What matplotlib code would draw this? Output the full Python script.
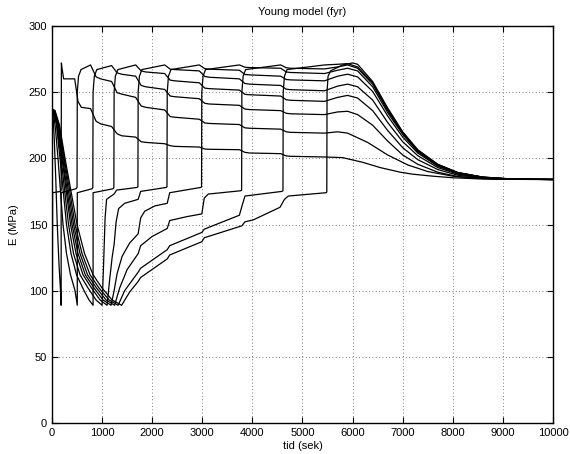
import matplotlib
matplotlib.use("Agg")
import matplotlib.pyplot as plt

plt.rcParams["font.family"] = ["Liberation Sans", "DejaVu Sans"]

# E-modulus per layer (MPa) against time (s), layer 1 = exposed surface
t_layer1 = [0, 8, 12, 175, 183, 188, 200, 233, 453, 519, 585, 770, 880, 970, 1190, 1300, 1390, 1670,
            1780, 1870, 2250, 2360, 2450, 2940, 3050, 3140, 3740, 3850, 3940, 4565, 4675, 4765, 5440,
            5800, 6200, 6550, 6950, 7200, 7600, 8000, 8500, 9000, 10000]
e_layer1 = [237, 89, 174, 175, 176, 272, 268, 260, 260, 243, 238.5, 237.5, 228, 226, 224, 218.5, 217, 216,
            212.5, 212, 211, 209.5, 209, 208.5, 207, 206.8, 206.5, 204.5, 204, 203.5, 201.8, 201.5, 201,
            200.5, 197, 193, 189.5, 188, 186.5, 185.3, 184.5, 184.1, 184]

t_layer2 = [0, 15, 45, 75, 105, 140, 170, 183, 183, 480, 500, 505, 530, 580, 770, 880, 970, 1190, 1300,
            1390, 1670, 1780, 1870, 2250, 2360, 2450, 2940, 3050, 3140, 3740, 3850, 3940, 4565, 4675,
            4765, 5440, 5700, 5900, 6300, 6700, 7100, 7500, 8000, 8500, 9000, 10000]
e_layer2 = [237, 236, 215, 185, 150, 120, 100, 89, 174, 177, 178, 250, 262, 267, 270.5, 261.5, 260, 258, 249.5,
            248.5, 246, 239.5, 238.5, 236.5, 231.5, 231, 229.5, 226.7, 226.3, 225.5, 223, 222.7, 222, 220,
            219.6, 219, 220, 219, 212, 202.5, 195, 190, 186.5, 184.8, 184.2, 184]

t_layer3 = [0, 25, 70, 120, 170, 220, 290, 370, 460, 505, 505, 800, 815, 820, 845, 895, 1190, 1300, 1390,
            1670, 1780, 1870, 2250, 2360, 2450, 2940, 3050, 3140, 3740, 3850, 3940, 4565, 4675, 4765,
            5440, 5700, 5900, 6100, 6400, 6700, 7000, 7300, 7700, 8100, 8600, 9200, 10000]
e_layer3 = [237, 236, 222, 200, 175, 150, 128, 112, 100, 89, 174, 177, 178, 250, 262, 267, 270, 264.5, 263.5,
            262, 255, 254, 252, 247, 246.5, 245, 241.5, 241, 240, 237.2, 236.8, 236, 234, 233.6,
            233, 235, 235.5, 233, 225, 213, 202.5, 195.5, 189.5, 186.2, 184.7, 184.1, 184]

t_layer4 = [0, 30, 90, 160, 225, 290, 380, 490, 640, 740, 820, 820, 1220, 1235, 1240, 1265, 1315, 1670,
            1780, 1870, 2250, 2360, 2450, 2940, 3050, 3140, 3740, 3850, 3940, 4565, 4675, 4765, 5440,
            5700, 5900, 6100, 6400, 6700, 7000, 7300, 7700, 8100, 8600, 9200, 10000]
e_layer4 = [237, 236, 225, 200, 175, 150, 128, 112, 100, 93, 89, 174, 177, 178, 250, 262, 267, 270.5,
            266, 265.2, 264, 259, 258.5, 257, 253, 252.6, 251.5, 248.3, 248, 247, 244.2, 243.8, 243,
            246, 247.5, 245.5, 236, 221, 208, 199, 191.5, 187.2, 185, 184.2, 184]

t_layer5 = [0, 35, 100, 180, 255, 330, 430, 560, 720, 880, 1000, 1030, 1060, 1090, 1200, 1240, 1290,
            1700, 1715, 1720, 1745, 1795, 2250, 2360, 2450, 2940, 3050, 3140, 3740, 3850, 3940, 4565,
            4675, 4765, 5440, 5700, 5900, 6100, 6400, 6700, 7000, 7300, 7700, 8100, 8600, 9200, 10000]
e_layer5 = [237, 236, 225, 200, 175, 150, 128, 112, 102, 93, 89, 120, 155, 169, 172, 173, 176,
            178, 178.5, 250, 262, 267, 270.5, 267.3, 267, 266, 261.8, 261.2, 260, 256.5, 256, 255,
            252.2, 251.8, 251, 254.5, 256, 254, 244, 227, 212.5, 202, 193, 188, 185.3, 184.2, 184]

t_layer6 = [0, 40, 110, 200, 285, 370, 480, 620, 790, 960, 1100, 1150, 1200, 1240, 1280, 1330, 1450,
            1720, 1770, 2280, 2295, 2300, 2325, 2375, 2940, 3050, 3140, 3740, 3850, 3940, 4565, 4675,
            4765, 5440, 5700, 5900, 6100, 6400, 6700, 7000, 7300, 7700, 8100, 8600, 9200, 10000]
e_layer6 = [237, 236, 225, 200, 175, 150, 128, 112, 102, 93, 89, 108, 125, 135, 152, 162, 166,
            169, 175, 178, 178.5, 250, 262, 267, 270.5, 267.7, 267.3, 266.5, 263.3, 263, 262, 259.5,
            259.2, 258.5, 262, 263.5, 261.5, 250.5, 232, 216, 204, 194, 188.5, 185.5, 184.2, 184]

t_layer7 = [0, 45, 120, 215, 305, 400, 520, 665, 840, 1020, 1180, 1240, 1300, 1400, 1550, 1720, 1770,
            1850, 2050, 2300, 2350, 2970, 2985, 2990, 3015, 3065, 3740, 3850, 3940, 4565, 4675, 4765,
            5440, 5700, 5900, 6100, 6400, 6700, 7000, 7300, 7700, 8100, 8600, 9200, 10000]
e_layer7 = [237, 236, 225, 200, 175, 150, 128, 112, 102, 93, 89, 100, 113, 126, 136, 143, 155,
            160, 164, 166, 174, 178, 178.5, 250, 262, 267, 270.5, 268.8, 268.5, 268, 265.2, 264.8,
            264, 266.5, 268, 266, 254, 234.5, 218, 205, 194.5, 188.8, 185.6, 184.3, 184]

t_layer8 = [0, 50, 130, 230, 330, 430, 560, 710, 890, 1080, 1250, 1350, 1500, 1720, 1770, 2000, 2300,
            2350, 2700, 2990, 3040, 3120, 3770, 3785, 3790, 3815, 3865, 4565, 4675, 4765, 5440, 5700,
            5900, 6100, 6400, 6700, 7000, 7300, 7700, 8100, 8600, 9200, 10000]
e_layer8 = [237, 236, 225, 200, 175, 150, 128, 112, 102, 93, 89, 102, 116, 128, 134, 141, 147,
            153, 156, 158, 170, 173, 175.5, 176, 250, 262, 267, 270.5, 268.4, 268, 267.5, 269,
            270.5, 268, 256, 236, 219, 205.5, 195, 189, 185.7, 184.3, 184]

t_layer9 = [0, 55, 140, 245, 355, 460, 600, 760, 940, 1140, 1320, 1450, 1720, 1770, 2300, 2350, 2990,
            3040, 3740, 3800, 3852, 4590, 4610, 4615, 4640, 4690, 5440, 5700, 5900, 6100, 6400, 6700,
            7000, 7300, 7700, 8100, 8600, 9200, 10000]
e_layer9 = [237, 236, 225, 200, 175, 150, 128, 112, 102, 93, 89, 100, 114, 117, 131, 134, 144,
            146.5, 157, 165, 171.5, 175, 175.5, 250, 262, 267, 270.5, 271, 271.5, 269, 257, 237,
            219.5, 206, 195.3, 189.2, 185.8, 184.3, 184]

t_layer10 = [0, 60, 150, 260, 380, 500, 650, 820, 1000, 1200, 1390, 1550, 1720, 1770, 2300, 2350, 2990,
             3040, 3790, 3850, 4018, 4551, 4640, 4717, 5470, 5485, 5490, 5510, 5560, 5800, 6000, 6100,
             6400, 6700, 7000, 7300, 7700, 8100, 8600, 9200, 10000]
e_layer10 = [237, 236, 225, 200, 175, 150, 128, 112, 102, 93, 89, 99, 107, 110, 124, 127, 137,
             140, 149, 152, 153.5, 163, 169, 171.5, 174, 174.5, 250, 262, 266, 270.5, 272, 271,
             258, 238, 220, 206.5, 195.5, 189.3, 185.8, 184.3, 184]

layer_times = [t_layer1, t_layer2, t_layer3, t_layer4, t_layer5,
               t_layer6, t_layer7, t_layer8, t_layer9, t_layer10]
layer_moduli = [e_layer1, e_layer2, e_layer3, e_layer4, e_layer5,
                e_layer6, e_layer7, e_layer8, e_layer9, e_layer10]

x_ticks = list(range(0, 10001, 1000))
y_ticks = list(range(0, 301, 50))

fig = plt.figure(figsize=(5.7, 4.54), dpi=100)
ax = fig.add_axes([0.0912, 0.068, 0.879, 0.875])

for t, e in zip(layer_times, layer_moduli):
    ax.plot(t, e, color="black", linewidth=0.9)

ax.set_xlim(0, 10000)
ax.set_ylim(0, 300)
ax.set_xticks(x_ticks)
ax.set_yticks(y_ticks)
ax.grid(True, linestyle=(0, (1, 3)), color="#555555", linewidth=0.6)
ax.tick_params(direction="in", top=True, right=True, labelsize=8, length=4, width=0.8)
for s in ax.spines.values():
    s.set_linewidth(1.0)

ax.set_title("Young model (fyr)", fontsize=8, pad=8)
ax.set_xlabel("tid (sek)", fontsize=8, labelpad=2)
ax.set_ylabel("E (MPa)", fontsize=8, labelpad=7)

fig.savefig("out.png", dpi=100)
